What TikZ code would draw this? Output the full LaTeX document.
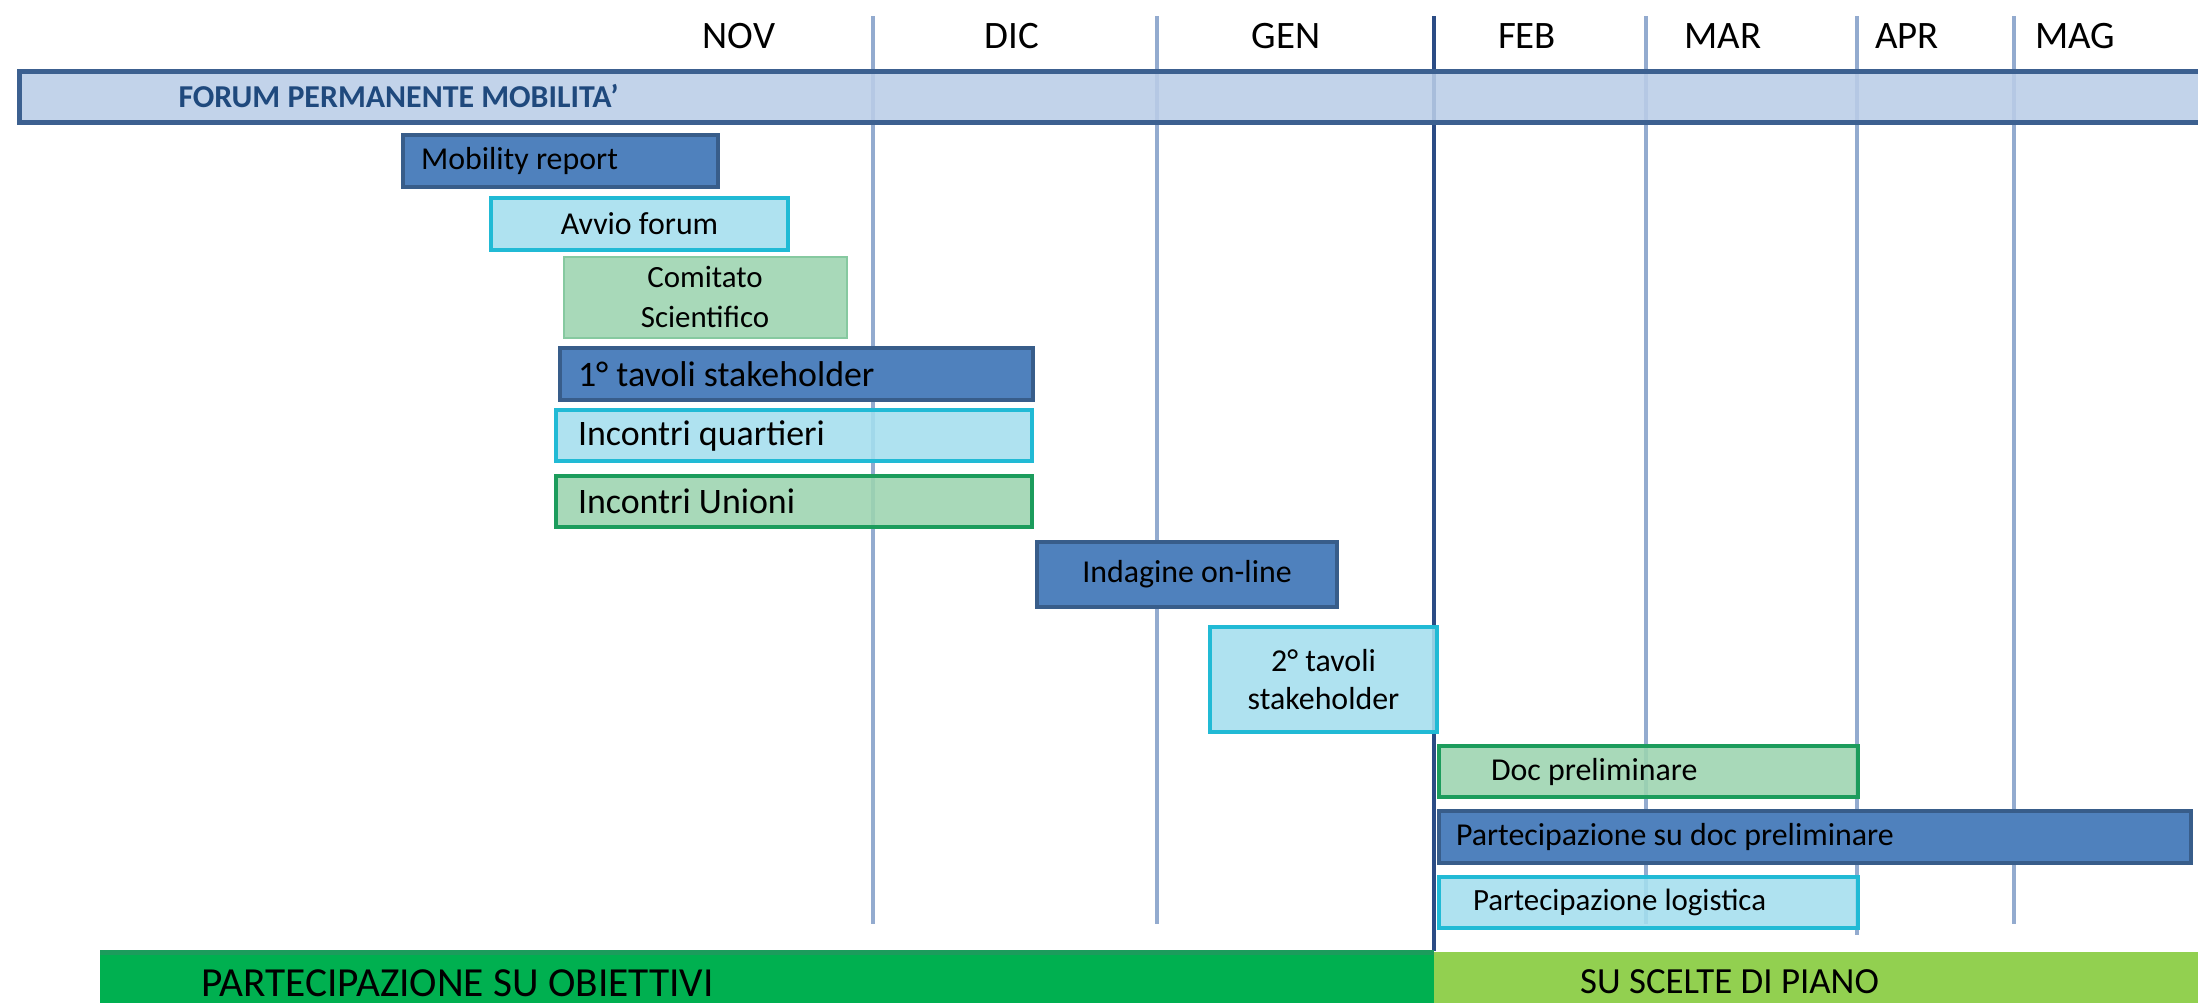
\documentclass[tikz,border=0pt]{standalone}
\usepackage{fontspec}
\setmainfont{Carlito}
\definecolor{barblue}{HTML}{4F81BD}
\definecolor{barblueline}{HTML}{385D8A}
\definecolor{forumfill}{HTML}{BACDE8}
\definecolor{forumline}{HTML}{3C6090}
\definecolor{forumtext}{HTML}{1F497D}
\definecolor{cyanfill}{HTML}{A4DFEE}
\definecolor{cyanline}{HTML}{21BAD5}
\definecolor{greenfill}{HTML}{9CD4B0}
\definecolor{greenline}{HTML}{1C9C5C}
\definecolor{paleline}{HTML}{86C9A0}
\definecolor{gridline}{HTML}{93ABCF}
\definecolor{splitline}{HTML}{2B4C85}
\definecolor{darkgreen}{HTML}{00B050}
\definecolor{lightgreen}{HTML}{92D050}
\begin{document}
\begin{tikzpicture}[x=1bp, y=-1bp,
  bar/.style = {anchor=north west, inner sep=0pt, line width=4bp},
  bluebar/.style = {bar, fill=barblue, draw=barblueline},
  cyanbar/.style = {bar, fill=cyanfill, fill opacity=0.88, text opacity=1, draw=cyanline},
  greenbar/.style = {bar, fill=greenfill, fill opacity=0.88, text opacity=1, draw=greenline},
  month/.style = {anchor=base, font=\fontsize{39}{47}\selectfont},
  boxfont/.style = {font=\fontsize{32}{39}\selectfont},
  bigfont/.style = {font=\fontsize{36}{43}\selectfont},
  grid/.style = {gridline, line width=4bp}]
\path[use as bounding box, fill=white] (0,0) rectangle (2198,1003);
% month lines
\draw[grid] (873,16) -- (873,924);
\draw[grid] (1157,16) -- (1157,924);
\draw[grid] (1646,16) -- (1646,924);
\draw[grid] (1857,16) -- (1857,935);
\draw[grid] (2014,16) -- (2014,924);
\draw[splitline, line width=4.5bp] (1434,16) -- (1434,951);
% months
\node[month] (nov) at (739,48) {NOV};
\node[month] (dic) at (1012,48) {DIC};
\node[month] (gen) at (1286,48) {GEN};
\node[month] (feb) at (1527,48) {FEB};
\node[month] (mar) at (1723,48) {MAR};
\node[month] (apr) at (1907,48) {APR};
\node[month] (mag) at (2075,48) {MAG};
% bars
\node[bar, fill=forumfill, fill opacity=0.88, text opacity=1, draw=forumline, line width=5bp,
  minimum height=51bp, text width=1874.5bp, inner xsep=159.5bp, align=flush left,
  font=\bfseries\fontsize{32}{38}\selectfont, text=forumtext] (forum) at (16.5,68.5) {FORUM PERMANENTE MOBILITA’};
\node[bluebar, boxfont, minimum height=52bp, text width=279bp, inner xsep=18bp, align=flush left] (mobility) at (401,133) {Mobility report};
\node[cyanbar, boxfont, minimum width=297bp, minimum height=52bp] (avvio) at (489,196) {Avvio forum};
\node[bar, fill=greenfill, fill opacity=0.88, text opacity=1, draw=paleline, line width=2bp,
  minimum width=283bp, minimum height=81bp, align=center, font=\fontsize{31}{40}\selectfont] (comitato) at (562.5,255.5) {Comitato\\Scientifico};
\node[bluebar, bigfont, minimum height=52bp, text width=437bp, inner xsep=18bp, align=flush left] (tavoli1) at (558,346) {1° tavoli stakeholder};
\node[cyanbar, bigfont, minimum height=51bp, text width=432bp, inner xsep=22bp, align=flush left] (quartieri) at (554,408) {Incontri quartieri};
\node[greenbar, bigfont, minimum height=51bp, text width=432bp, inner xsep=22bp, align=flush left] (unioni) at (554,474) {Incontri Unioni};
\node[bluebar, boxfont, minimum width=300bp, minimum height=65bp] (indagine) at (1035,540) {Indagine on-line};
\node[cyanbar, boxfont, minimum width=227bp, minimum height=105bp, align=center] (tavoli2) at (1208,625) {2° tavoli\\stakeholder};
\node[greenbar, boxfont, minimum height=51bp, text width=315bp, inner xsep=52bp, align=flush left] (docprel) at (1437,744) {Doc preliminare};
\node[bluebar, boxfont, minimum height=52bp, text width=718bp, inner xsep=17bp, align=flush left] (partdoc) at (1437,809) {Partecipazione su doc preliminare};
\node[cyanbar, font=\fontsize{31}{38}\selectfont, minimum height=51bp, text width=351bp, inner xsep=34bp, align=flush left] (logistica) at (1437,875) {Partecipazione logistica};
% phases
\fill[darkgreen] (100,950) rectangle (1434,1003);
\fill[greenline] (100,950) rectangle (1434,955);
\fill[lightgreen] (1434,952) rectangle (2198,1003);
\node[anchor=base west, inner sep=0pt, font=\fontsize{41.5}{50}\selectfont] (obiettivi) at (201,996) {PARTECIPAZIONE SU OBIETTIVI};
\node[anchor=base west, inner sep=0pt, font=\fontsize{37}{44}\selectfont] (scelte) at (1580,993) {SU SCELTE DI PIANO};
\end{tikzpicture}
\end{document}
